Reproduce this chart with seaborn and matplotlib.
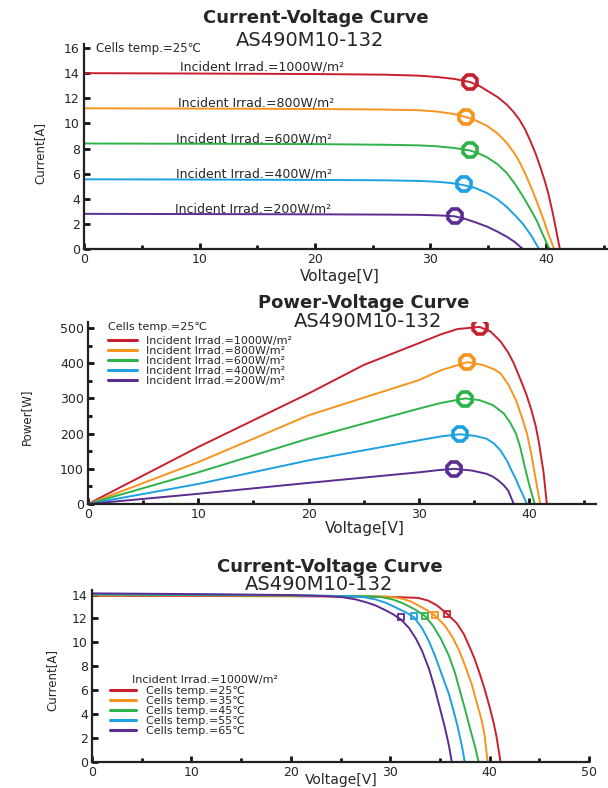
import numpy as np
import pandas as pd
import matplotlib
matplotlib.use("Agg")
import matplotlib.pyplot as plt
from matplotlib.ticker import MultipleLocator
import seaborn as sns

# colours of the five series
colors = ["#C8202F", "#F7941D", "#2DB34A", "#1DA1E0", "#5B2D91"]

# 1. I-V curves at different irradiance (25 C)
irrad_labels = ["Incident Irrad.=1000W/m²", "Incident Irrad.=800W/m²", "Incident Irrad.=600W/m²",
                "Incident Irrad.=400W/m²", "Incident Irrad.=200W/m²"]
iv_volts = [
    [0, 10, 20, 26, 29, 30.5, 32, 33.4, 34.2, 35, 35.8, 36.6, 37.2, 37.7, 38.2, 38.6, 39.1, 39.5,
     39.9, 40.2, 40.6, 40.9, 41.2],
    [0, 10, 20, 26, 29, 30.5, 32, 33.1, 34, 34.9, 35.8, 36.6, 37.2, 37.7, 38.3, 38.9, 39.4, 39.8,
     40.2, 40.7],
    [0, 10, 20, 26, 29, 30.5, 32, 33.4, 34.2, 34.9, 35.8, 36.6, 37.3, 38.0, 38.6, 39.2, 39.7, 40.3],
    [0, 10, 20, 26, 29, 30.5, 31.8, 32.8, 33.9, 34.9, 35.8, 36.6, 37.3, 38.0, 38.7, 39.4],
    [0, 10, 20, 26, 29, 30.5, 31.5, 32.1, 33, 33.9, 34.9, 35.8, 36.6, 37.3, 38.0],
]
iv_amps = [
    [14.0, 13.97, 13.93, 13.88, 13.8, 13.7, 13.55, 13.3, 13.0, 12.55, 12.1, 11.5, 10.9, 10.3, 9.5,
     8.7, 7.6, 6.55, 5.4, 4.43, 2.8, 1.4, 0],
    [11.2, 11.18, 11.15, 11.1, 11.05, 10.95, 10.75, 10.5, 10.2, 9.8, 9.2, 8.45, 7.7, 6.95, 5.8,
     4.5, 3.3, 2.3, 1.2, 0],
    [8.4, 8.38, 8.35, 8.3, 8.25, 8.18, 8.05, 7.85, 7.6, 7.3, 6.75, 6.05, 5.2, 4.2, 3.25, 2.25,
     1.2, 0],
    [5.55, 5.53, 5.5, 5.47, 5.42, 5.36, 5.25, 5.1, 4.85, 4.45, 3.95, 3.35, 2.7, 2.0, 1.1, 0],
    [2.8, 2.78, 2.76, 2.74, 2.72, 2.68, 2.64, 2.6, 2.4, 2.12, 1.78, 1.38, 0.98, 0.55, 0],
]
iv_mpp_v = [33.4, 33.1, 33.4, 32.9, 32.1]
iv_mpp_a = [13.3, 10.5, 7.9, 5.15, 2.63]
iv_label_x = [8.3, 8.1, 8.0, 8.0, 7.9]
iv_label_y = [14.5, 11.6, 8.75, 5.95, 3.15]

# 2. P-V curves at different irradiance (25 C)
pv_volts = [
    [0, 10, 20, 25, 30, 32, 33.5, 35.5, 36.5, 37.4, 38.1, 38.6, 39.1, 39.7, 40.2, 40.6, 40.9,
     41.3, 41.6],
    [0, 10, 20, 30, 32, 34.4, 35.8, 36.8, 37.4, 38.1, 38.8, 39.3, 39.8, 40.2, 40.5, 41.0],
    [0, 10, 20, 30, 32, 34.2, 35.5, 36.7, 37.7, 38.3, 38.8, 39.2, 39.6, 40.0, 40.5],
    [0, 10, 20, 30, 32, 33.7, 35, 36.1, 36.8, 37.4, 38.0, 38.4, 38.8, 39.1, 39.8],
    [0, 10, 20, 30, 31.7, 33.2, 34.8, 36.1, 36.7, 37.2, 37.7, 38.1, 38.6],
]
pv_watts = [
    [0, 162, 314, 395, 457, 482, 497, 503, 490, 462, 430, 400, 362, 315, 267, 220, 171, 90, 0],
    [0, 119, 252, 352, 380, 403, 395, 383, 371, 340, 295, 250, 200, 140, 86, 0],
    [0, 90, 186, 271, 287, 300, 295, 281, 257, 230, 200, 160, 105, 55, 0],
    [0, 57, 124, 181, 192, 198, 194, 186, 172, 152, 122, 95, 70, 48, 0],
    [0, 29, 60, 90, 96, 100, 95, 86, 78, 67, 53, 38, 0],
]
pv_mpp_v = [35.5, 34.4, 34.2, 33.7, 33.2]
pv_mpp_w = [503, 403, 298, 198, 100]

# 3. I-V curves at different cell temperature (1000 W/m2)
temp_labels = ["Cells temp.=25℃", "Cells temp.=35℃", "Cells temp.=45℃",
               "Cells temp.=55℃", "Cells temp.=65℃"]
tv_volts = [
    [0, 10, 20, 28, 31, 32.8, 33.8, 34.7, 35.7, 36.7, 37.4, 38.0, 38.5, 39.0, 39.5, 40.0, 40.4,
     40.7, 41.1],
    [0, 10, 20, 28, 29.6, 31.0, 32, 32.8, 33.7, 34.5, 35.5, 36.3, 37.0, 37.6, 38.2, 38.7, 39.2,
     39.5, 39.8],
    [0, 10, 20, 27.7, 29, 30.2, 31.2, 32.4, 33.5, 34.3, 35.1, 35.9, 36.5, 37.0, 37.5, 38.0, 38.5,
     38.9],
    [0, 10, 20, 25.8, 27.2, 28.5, 29.6, 30.6, 31.5, 32.4, 33.2, 33.9, 34.5, 35.2, 35.9, 36.4,
     36.8, 37.2, 37.5],
    [0, 10, 20, 23.8, 25.2, 26.5, 27.6, 28.5, 29.5, 30.3, 31.1, 31.9, 32.6, 33.2, 33.9, 34.5,
     35.0, 35.5, 35.9, 36.2],
]
tv_amps = [
    [13.9, 13.88, 13.86, 13.82, 13.78, 13.72, 13.5, 13.1, 12.4, 11.6, 10.7, 9.6, 8.6, 7.4, 6.1,
     4.6, 3.3, 2.1, 0],
    [13.95, 13.92, 13.9, 13.86, 13.84, 13.7, 13.45, 13.1, 12.7, 12.25, 11.4, 10.4, 9.2, 7.9, 6.5,
     5.0, 3.5, 2.2, 0],
    [14.0, 13.96, 13.92, 13.86, 13.8, 13.6, 13.3, 12.8, 12.2, 11.4, 10.3, 8.9, 7.5, 6.0, 4.5,
     2.9, 1.4, 0],
    [14.05, 14.0, 13.95, 13.86, 13.8, 13.6, 13.3, 12.9, 12.55, 12.1, 11.2, 10.1, 8.9, 7.3, 5.7,
     4.2, 2.9, 1.4, 0],
    [14.1, 14.04, 13.96, 13.86, 13.78, 13.6, 13.35, 13.1, 12.7, 12.35, 11.9, 11.2, 10.3, 9.3,
     7.8, 6.1, 4.5, 2.9, 1.4, 0],
]
tv_mpp_v = [35.7, 34.5, 33.5, 32.4, 31.1]
tv_mpp_a = [12.35, 12.27, 12.2, 12.2, 12.1]

sns.set_theme(style="ticks")
plt.rcParams["font.family"] = ["DejaVu Sans"]

W, H = 608, 788
fig = plt.figure(figsize=(W / 100, H / 100), dpi=100)


def add_ax(left, right, bottom, top):
    # pixel box -> figure fraction
    return fig.add_axes([left / W, 1 - bottom / H, (right - left) / W, (bottom - top) / H])


def style_ax(ax, ymajor, yminor=None):
    sns.despine(ax=ax)
    for s in ["left", "bottom"]:
        ax.spines[s].set_linewidth(1.6)
        ax.spines[s].set_color("#222222")
    ax.xaxis.set_major_locator(MultipleLocator(10))
    ax.xaxis.set_minor_locator(MultipleLocator(5))
    ax.yaxis.set_major_locator(MultipleLocator(ymajor))
    if yminor:
        ax.yaxis.set_minor_locator(MultipleLocator(yminor))
    ax.tick_params(which="major", direction="in", length=4, width=2, color="#111111",
                   labelsize=9, pad=3)
    ax.tick_params(which="minor", direction="in", length=3, width=2, color="#111111")
    ax.set_xlabel("")
    ax.set_ylabel("")


def titles(cx, y1, y2, cx2, title):
    fig.text(cx / W, 1 - y1 / H, title, ha="center", va="center", fontsize=13, fontweight="bold")
    fig.text(cx2 / W, 1 - y2 / H, "AS490M10-132", ha="center", va="center", fontsize=14)


# ---------------- panel 1 ----------------
ax1 = add_ax(84, 608, 249, 44)
for k in range(5):
    sns.lineplot(x=iv_volts[k], y=iv_amps[k], color=colors[k], lw=1.4, ax=ax1,
                 estimator=None, sort=False)
    ax1.plot(iv_mpp_v[k], iv_mpp_a[k], marker="8", ms=11, mfc="none", mec=colors[k], mew=2.6)
    ax1.text(iv_label_x[k], iv_label_y[k], irrad_labels[k], fontsize=9, va="center", ha="left")
ax1.text(1.0, 16.0, "Cells temp.=25℃", fontsize=8.5, va="center", ha="left")
ax1.set_xlim(0, (608 - 84) / 11.55)
ax1.set_ylim(0, (249 - 44) / 12.56)
style_ax(ax1, 2)
titles(316, 18, 40, 310, "Current-Voltage Curve")
fig.text(340 / W, 1 - 276 / H, "Voltage[V]", ha="center", va="center", fontsize=11)
fig.text(40 / W, 1 - 153 / H, "Current[A]", ha="center", va="center", fontsize=8.5, rotation=90)

# ---------------- panel 2 ----------------
ax2 = add_ax(88, 596, 504, 322)
for k in range(5):
    sns.lineplot(x=pv_volts[k], y=pv_watts[k], color=colors[k], lw=1.4, ax=ax2,
                 estimator=None, sort=False, label=irrad_labels[k])
    ax2.plot(pv_mpp_v[k], pv_mpp_w[k], marker="8", ms=11, mfc="none", mec=colors[k], mew=2.6)
ax2.set_xlim(0, (596 - 88) / 11.03)
ax2.set_ylim(0, (504 - 322) / 0.352)
style_ax(ax2, 100, 50)
ax2.legend(loc="upper left", bbox_to_anchor=(108 / W, 1 - 336 / H), bbox_transform=fig.transFigure,
           frameon=False, fontsize=8, borderpad=0, borderaxespad=0, handlelength=2.6,
           handletextpad=0.8, labelspacing=0.0)
for line in ax2.get_legend().get_lines():
    line.set_linewidth(2.2)
fig.text(108 / W, 1 - 327 / H, "Cells temp.=25℃", fontsize=8, va="center", ha="left")
titles(364, 303, 322, 368, "Power-Voltage Curve")
fig.text(365 / W, 1 - 529 / H, "Voltage[V]", ha="center", va="center", fontsize=11)
fig.text(26 / W, 1 - 417 / H, "Power[W]", ha="center", va="center", fontsize=8.5, rotation=90)

# ---------------- panel 3 ----------------
ax3 = add_ax(92, 589, 762, 590)
for k in range(5):
    sns.lineplot(x=tv_volts[k], y=tv_amps[k], color=colors[k], lw=1.4, ax=ax3,
                 estimator=None, sort=False, label=temp_labels[k])
    ax3.plot(tv_mpp_v[k], tv_mpp_a[k], marker="s", ms=4.5, mfc="none", mec=colors[k], mew=1.3)
ax3.set_xlim(0, 50)
ax3.set_ylim(0, (762 - 590) / 11.96)
style_ax(ax3, 2)
ax3.legend(loc="upper left", bbox_to_anchor=(110 / W, 1 - 686 / H), bbox_transform=fig.transFigure,
           frameon=False, fontsize=8, borderpad=0, borderaxespad=0, handlelength=2.35,
           handletextpad=0.9, labelspacing=0.0)
for line in ax3.get_legend().get_lines():
    line.set_linewidth(2.2)
fig.text(132 / W, 1 - 680 / H, "Incident Irrad.=1000W/m²", fontsize=8, va="center", ha="left")
titles(330, 567, 584, 319, "Current-Voltage Curve")
fig.text(341 / W, 1 - 787 / H, "Voltage[V]", ha="center", va="bottom", fontsize=10)
fig.text(52 / W, 1 - 680 / H, "Current[A]", ha="center", va="center", fontsize=8.5, rotation=90)

fig.savefig("out.png", dpi=100)
